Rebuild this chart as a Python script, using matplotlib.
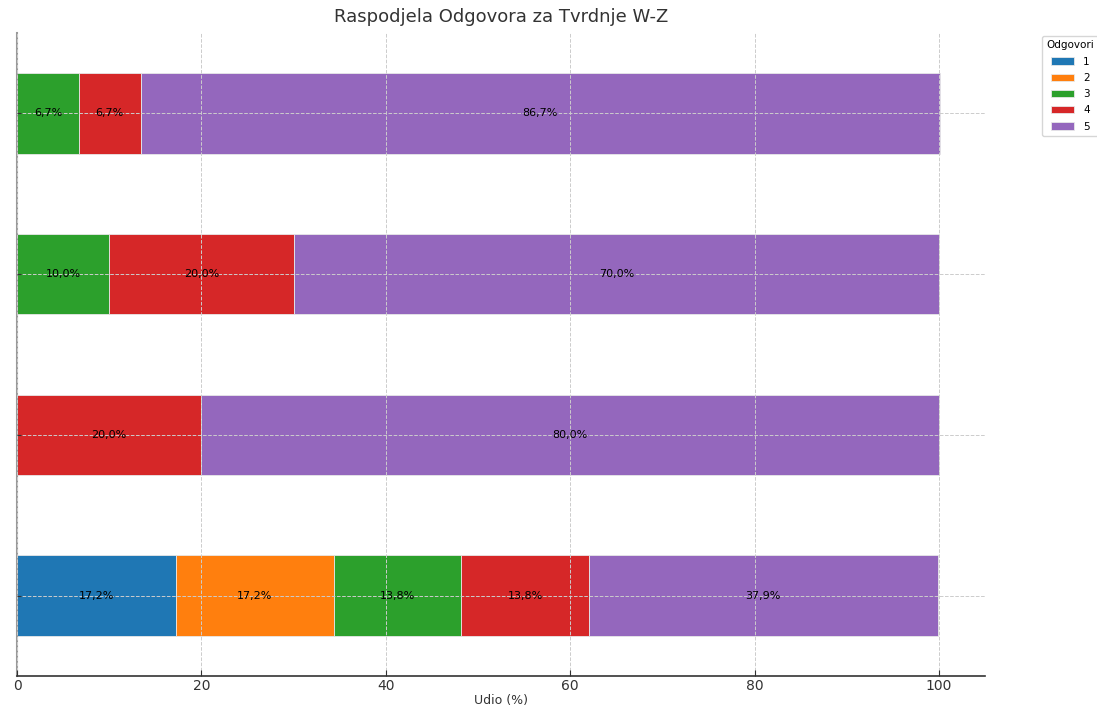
import matplotlib.pyplot as plt
import numpy as np

# tvrdnje (od dna prema vrhu)
tvrdnje = ['W', 'X', 'Y', 'Z']
odgovori = ['1', '2', '3', '4', '5']
udio_1 = [17.2, 0.0, 0.0, 0.0]
udio_2 = [17.2, 0.0, 0.0, 0.0]
udio_3 = [13.8, 0.0, 10.0, 6.7]
udio_4 = [13.8, 20.0, 20.0, 6.7]
udio_5 = [37.9, 80.0, 70.0, 86.7]
colors = ['#1f77b4', '#ff7f0e', '#2ca02c', '#d62728', '#9467bd']

serije = [udio_1, udio_2, udio_3, udio_4, udio_5]

fig = plt.figure(figsize=(10.97, 7.12), dpi=100)
ax = fig.add_axes([17 / 1097, 36 / 712, 968 / 1097, 643 / 712])

y = np.arange(len(tvrdnje))
left = np.zeros(len(tvrdnje))
for i, vals in enumerate(serije):
    vals = np.array(vals)
    ax.barh(y, vals, left=left, height=0.5, color=colors[i],
            edgecolor='#e8e8e8', linewidth=0.6, label=odgovori[i])
    for j, v in enumerate(vals):
        if v > 0:
            ax.text(left[j] + v / 2, y[j], f'{v:.1f}%'.replace('.', ','),
                    ha='center', va='center', fontsize=8, color='black')
    left += vals

ax.set_xlim(0, 105)
ax.set_ylim(-0.5, 3.5)
ax.set_yticks(y)
ax.set_yticklabels([])
ax.set_xticks([0, 20, 40, 60, 80, 100])
ax.tick_params(axis='y', direction='in', length=3, color='#333333')
ax.tick_params(axis='x', direction='in', length=4, labelsize=10, colors='#333333', pad=2)
ax.grid(True, linestyle='--', color='#cccccc', linewidth=0.7)
ax.set_axisbelow(False)

ax.spines['top'].set_visible(False)
ax.spines['right'].set_visible(False)
ax.spines['left'].set_color('#999999')
ax.spines['left'].set_linewidth(1.5)
ax.spines['bottom'].set_color('#333333')
ax.spines['bottom'].set_linewidth(1.2)

ax.set_xlabel('Udio (%)', fontsize=9, color='#333333', labelpad=1)
ax.set_title('Raspodjela Odgovora za Tvrdnje W-Z', fontsize=13, color='#333333', pad=8)

ax.legend(title='Odgovori', loc='upper left', bbox_to_anchor=(1.056, 1.0),
          fontsize=7.5, title_fontsize=7.5, frameon=True, edgecolor='#cccccc',
          handlelength=2.2, labelspacing=0.6, handletextpad=0.9,
          borderpad=0.4, borderaxespad=0.3)

plt.savefig('out.png', dpi=100)
